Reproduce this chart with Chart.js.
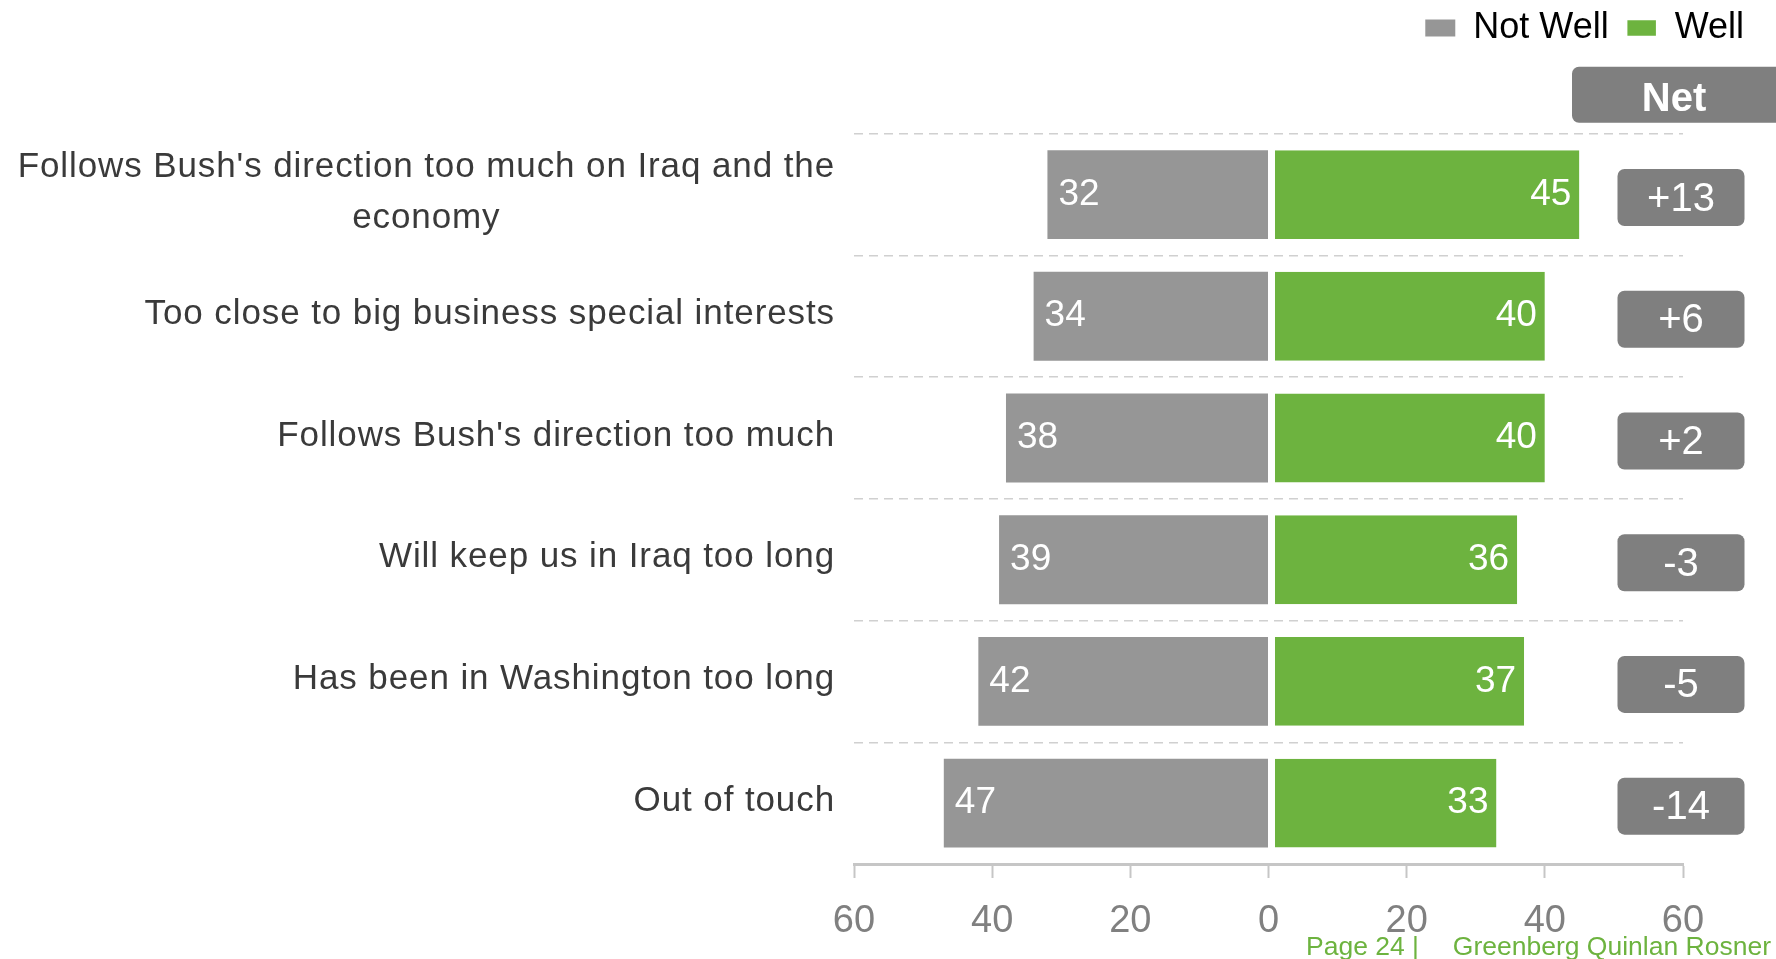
<!DOCTYPE html>
<html><head><meta charset="utf-8">
<script src="https://cdn.jsdelivr.net/npm/chart.js@4.4.0/dist/chart.umd.min.js"></script>
<style>html,body{margin:0;padding:0;background:#fff}canvas{display:block}</style>
</head><body>
<canvas id="c" width="1776" height="959"></canvas>
<script>
// ---- data ----
const categories = [
  ["Follows Bush's direction too much on Iraq and the", "economy"],
  "Too close to big business special interests",
  "Follows Bush's direction too much",
  "Will keep us in Iraq too long",
  "Has been in Washington too long",
  "Out of touch"
];
const seriesNames = ["Not Well", "Well"];
const notWell = [32, 34, 38, 39, 42, 47];
const well = [45, 40, 40, 36, 37, 33];
const net = [13, 6, 2, -3, -5, -14];
const xTicks = [-60, -40, -20, 0, 20, 40, 60];
const netTitle = "Net";
const footerLeft = "Page 24 |";
const footerRight = "Greenberg Quinlan Rosner";

// ---- styles ----
const FONT = '"Liberation Sans", Arial, sans-serif';
const GRAY = '#969696', GREEN = '#6db33f', NETGRAY = '#7f7f7f';

const overlay = {
  id: 'overlay',
  afterDraw(chart) {
    const ctx = chart.ctx;
    const xs = chart.scales.x, ys = chart.scales.y;
    const area = chart.chartArea;
    ctx.save();
    // category labels
    ctx.fillStyle = '#3a3a3a';
    ctx.font = '35px ' + FONT;
    ctx.letterSpacing = '0.9px';
    ctx.textBaseline = 'middle';
    const rightX = area.left - 19;
    categories.forEach((lab, i) => {
      const lines = Array.isArray(lab) ? lab : [lab];
      const cy = ys.getPixelForValue(i) - 2;
      const widths = lines.map(l => ctx.measureText(l).width);
      const maxW = Math.max(...widths);
      const cx = rightX - maxW / 2;
      const lh = 51;
      ctx.textAlign = 'center';
      lines.forEach((l, k) => {
        ctx.fillText(l, cx, cy + (k - (lines.length - 1) / 2) * lh);
      });
    });
    ctx.letterSpacing = '0px';
    // value labels
    ctx.fillStyle = '#fff';
    ctx.font = '37px ' + FONT;
    const m0 = chart.getDatasetMeta(0), m1 = chart.getDatasetMeta(1);
    m0.data.forEach((el, i) => {
      ctx.textAlign = 'left';
      ctx.fillText(String(notWell[i]), el.x + 11, el.y);
    });
    m1.data.forEach((el, i) => {
      ctx.textAlign = 'right';
      ctx.fillText(String(well[i]), el.x - 8, el.y);
    });
    // net boxes
    const bx = xs.getPixelForValue(60) - 2;
    net.forEach((v, i) => {
      const cy = ys.getPixelForValue(i) + 3;
      ctx.fillStyle = NETGRAY;
      ctx.beginPath();
      ctx.roundRect(bx - 63.5, cy - 28.5, 127, 57, 7);
      ctx.fill();
      ctx.fillStyle = '#fff';
      ctx.font = '40px ' + FONT;
      ctx.textAlign = 'center';
      ctx.fillText((v > 0 ? '+' : '') + v, bx, cy + 2);
    });
    // Net header
    ctx.fillStyle = NETGRAY;
    ctx.beginPath();
    ctx.roundRect(1572, area.top - 67, 230, 56, 7);
    ctx.fill();
    ctx.fillStyle = '#fff';
    ctx.font = 'bold 40px ' + FONT;
    ctx.textAlign = 'center';
    ctx.fillText(netTitle, 1674, area.top - 34);
    // footer
    ctx.fillStyle = GREEN;
    ctx.font = '26.5px ' + FONT;
    ctx.textBaseline = 'alphabetic';
    ctx.textAlign = 'left';
    ctx.fillText(footerLeft, 1306, 955);
    ctx.textAlign = 'right';
    ctx.fillText(footerRight, 1771, 955);
    ctx.restore();
  }
};

new Chart(document.getElementById('c'), {
  type: 'bar',
  data: {
    labels: categories,
    datasets: [
      { label: seriesNames[0], data: notWell.map(v => -v), backgroundColor: GRAY, borderWidth: 0 },
      { label: seriesNames[1], data: well, backgroundColor: GREEN, borderColor: '#ffffff',
        borderWidth: { top: 0, right: 0, bottom: 0, left: 6 }, borderSkipped: false }
    ]
  },
  options: {
    indexAxis: 'y',
    responsive: false,
    animation: false,
    devicePixelRatio: 1,
    layout: { padding: { top: -8, right: 14, bottom: -7, left: 0 } },
    datasets: { bar: { categoryPercentage: 1, barPercentage: 0.73 } },
    scales: {
      x: {
        type: 'linear', stacked: true, min: -60, max: 60, position: 'bottom',
        afterBuildTicks: s => { s.ticks = xTicks.map(v => ({ value: v })); },
        ticks: { callback: v => Math.abs(v), color: '#808080', font: { size: 38, family: FONT, lineHeight: 1 }, padding: 25, maxRotation: 0 },
        grid: { drawOnChartArea: false, drawTicks: true, tickLength: 14, tickWidth: 2, color: '#c6c6c6', tickColor: '#c6c6c6' },
        border: { display: true, color: '#c6c6c6', width: 3 }
      },
      y: {
        type: 'category', stacked: true, offset: true, position: 'left',
        afterFit: s => { s.width = 854; },
        ticks: { display: false },
        grid: { offset: true, drawTicks: false, color: '#d0d0d0', lineWidth: 1.5 },
        border: { display: false, dash: [9, 6] }
      },
      yr: {
        type: 'category', position: 'right', display: true,
        afterFit: s => { s.width = 79; },
        ticks: { display: false },
        grid: { display: false },
        border: { display: false }
      }
    },
    plugins: {
      legend: {
        position: 'top', align: 'end', weight: 3000,
        labels: { boxWidth: 30, boxHeight: 17, padding: 18, color: '#000', font: { size: 36, family: FONT } }
      },
      title: { display: true, text: '', padding: 0, font: { size: 77.7, lineHeight: 1 } },
      tooltip: { enabled: false }
    }
  },
  plugins: [overlay]
});
</script>
</body></html>
